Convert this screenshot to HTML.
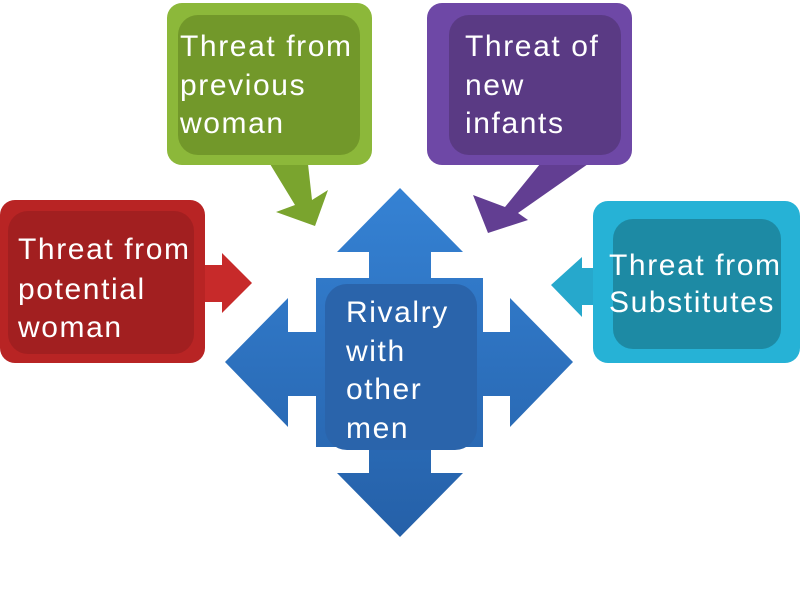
<!DOCTYPE html>
<html><head><meta charset="utf-8"><style>
html,body{margin:0;padding:0;background:#fff;width:800px;height:600px;overflow:hidden}
text{font-family:"Liberation Sans",sans-serif;font-size:30px;letter-spacing:1.6px;fill:#fff}
</style></head><body>
<svg width="800" height="600" viewBox="0 0 800 600" xmlns="http://www.w3.org/2000/svg">
<defs>
<linearGradient id="gb" x1="0" y1="0" x2="0" y2="1"><stop offset="0" stop-color="#3582d4"/><stop offset="1" stop-color="#2560a8"/></linearGradient>
</defs>
<!-- center cross -->
<path d="M400,188 L463,252 L431,252 L431,278 L483,278 L483,332 L510,332 L510,298 L573,362 L510,427 L510,396 L483,396 L483,447 L431,447 L431,473 L463,473 L400,537 L337,473 L369,473 L369,447 L316,447 L316,396 L288,396 L288,427 L225,362 L288,298 L288,332 L316,332 L316,278 L369,278 L369,252 L337,252 Z" fill="url(#gb)"/>
<rect x="325" y="284" width="152" height="166" rx="22" fill="#2a64ab"/>
<text x="346" y="322">Rivalry</text>
<text x="346" y="361">with</text>
<text x="346" y="399">other</text>
<text x="346" y="438">men</text>
<!-- green -->
<path d="M270,164 L308,164 L312,200 L328,190 L315,226 L276,212 L295,205 Z" fill="#7aa42e"/>
<rect x="167" y="3" width="205" height="162" rx="15" fill="#8cb83a"/>
<rect x="178" y="15" width="182" height="140" rx="20" fill="#72982a"/>
<text x="180" y="56">Threat from</text>
<text x="180" y="95">previous</text>
<text x="180" y="133">woman</text>
<!-- purple -->
<path d="M588,164 L540,164 L505,207 L473,195 L488,233 L528,220 L518,213 Z" fill="#623e92"/>
<rect x="427" y="3" width="205" height="162" rx="15" fill="#6e48a6"/>
<rect x="449" y="15" width="172" height="140" rx="20" fill="#5a3a84"/>
<text x="465" y="56">Threat of</text>
<text x="465" y="95">new</text>
<text x="465" y="133">infants</text>
<!-- red -->
<path d="M204,265 L222,265 L222,253 L252,283 L222,313 L222,302 L204,302 Z" fill="#c72a2a"/>
<rect x="0" y="200" width="205" height="163" rx="15" fill="#b82424"/>
<rect x="8" y="211" width="186" height="143" rx="20" fill="#a21f20"/>
<text x="18" y="259">Threat from</text>
<text x="18" y="299">potential</text>
<text x="18" y="337">woman</text>
<!-- teal -->
<path d="M596,268 L582,268 L582,257 L551,285 L582,317 L582,305 L596,305 Z" fill="#26a8cc"/>
<rect x="593" y="201" width="207" height="162" rx="15" fill="#26b2d6"/>
<rect x="613" y="219" width="168" height="130" rx="20" fill="#1d8aa4"/>
<text x="609" y="275">Threat from</text>
<text x="609" y="312">Substitutes</text>
</svg>
</body></html>
